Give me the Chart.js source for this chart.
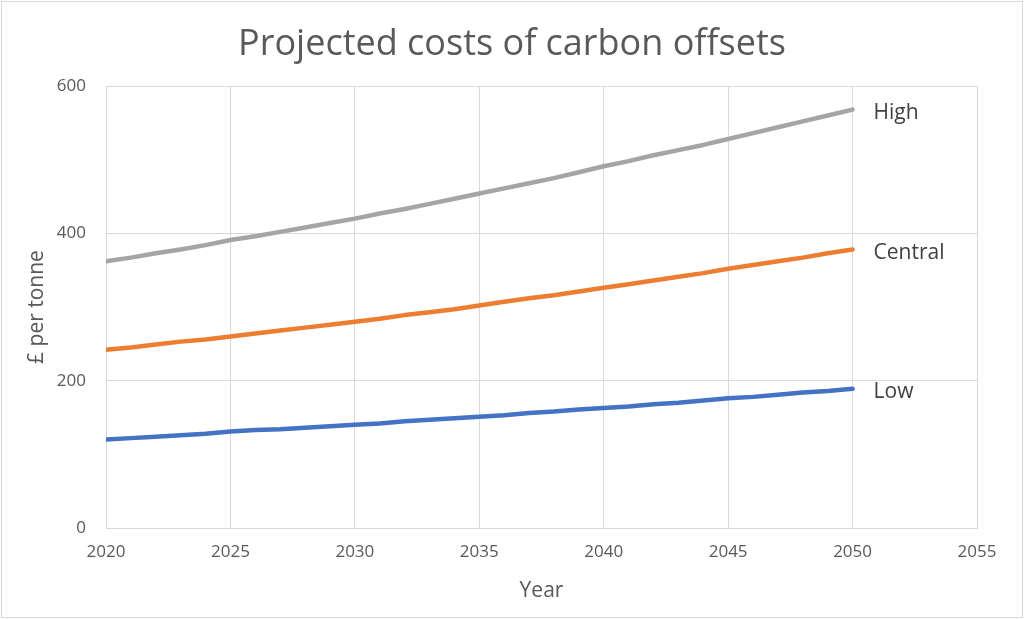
<!DOCTYPE html>
<html lang="en">
<head>
  <meta charset="UTF-8">
  <script src="https://cdn.jsdelivr.net/npm/chart.js"></script>
  <title>Projected costs of carbon offsets</title>
  <style>
    html, body { margin: 0; padding: 0; background: #ffffff; }
    .card { width: 1024px; height: 619px; }
  </style>
</head>
<body>
  <div class="card">
    <canvas id="offsetChart"></canvas>
  </div>

  <script>
    // valores (libras por tonelada)
    const anos = [2020, 2021, 2022, 2023, 2024, 2025, 2026, 2027, 2028, 2029, 2030,
      2031, 2032, 2033, 2034, 2035, 2036, 2037, 2038, 2039, 2040,
      2041, 2042, 2043, 2044, 2045, 2046, 2047, 2048, 2049, 2050];
    const serieLow = [120, 122, 124, 126, 128, 131, 133, 134, 136, 138, 140,
      142, 145, 147, 149, 151, 153, 156, 158, 161, 163,
      165, 168, 170, 173, 176, 178, 181, 184, 186, 189];
    const serieCentral = [242, 245, 249, 253, 256, 260, 264, 268, 272, 276, 280,
      284, 289, 293, 297, 302, 307, 312, 316, 321, 326,
      331, 336, 341, 346, 352, 357, 362, 367, 373, 378];
    const serieHigh = [362, 367, 373, 378, 384, 391, 396, 402, 408, 414, 420,
      427, 433, 440, 447, 454, 461, 468, 475, 483, 491,
      498, 506, 513, 520, 528, 536, 544, 552, 560, 568];
    const xTicks = [2020, 2025, 2030, 2035, 2040, 2045, 2050, 2055];
    const yTicks = [0, 200, 400, 600];
    const titulo = 'Projected costs of carbon offsets';

    const fonte = "'Open Sans', sans-serif";
    const corTexto = '#595959';
    const corGrade = '#d9d9d9';

    function pontos(valores) {
      var lista = [];
      for (var i = 0; i < anos.length; i++) {
        lista.push({ x: anos[i], y: valores[i] });
      }
      return lista;
    }

    // moldura, titulo e nomes das series no fim de cada linha
    const extras = {
      id: 'extras',
      beforeDraw: function (chart) {
        const c = chart.ctx;
        c.save();
        c.fillStyle = '#ffffff';
        c.fillRect(0, 0, chart.width, chart.height);
        c.strokeStyle = '#d9d9d9';
        c.lineWidth = 1;
        c.strokeRect(1.5, 1.5, chart.width - 3, chart.height - 3);
        c.font = '36px ' + fonte;
        c.fillStyle = corTexto;
        c.textAlign = 'center';
        c.textBaseline = 'middle';
        c.fillText(titulo, chart.width / 2, 45);
        c.restore();
      },
      afterDatasetsDraw: function (chart) {
        const c = chart.ctx;
        c.save();
        c.font = '21px ' + fonte;
        c.fillStyle = '#404040';
        c.textBaseline = 'middle';
        c.textAlign = 'left';
        chart.data.datasets.forEach(function (ds, i) {
          const meta = chart.getDatasetMeta(i);
          const ultimo = meta.data[meta.data.length - 1];
          c.fillText(ds.label, ultimo.x + 21, ultimo.y + 3);
        });
        c.restore();
      }
    };

    const ctx = document.getElementById('offsetChart').getContext('2d');
    const offsetChart = new Chart(ctx, {
      type: 'line',
      data: {
        datasets: [
          { label: 'Low', data: pontos(serieLow), borderColor: '#4472c4' },
          { label: 'Central', data: pontos(serieCentral), borderColor: '#ed7d31' },
          { label: 'High', data: pontos(serieHigh), borderColor: '#a5a5a5' }
        ]
      },
      options: {
        responsive: true,
        maintainAspectRatio: false,
        animation: false,
        devicePixelRatio: 1,
        layout: { padding: { top: 86, left: 0, right: 47, bottom: 0 } },
        elements: {
          line: { borderWidth: 4.5, tension: 0, borderCapStyle: 'round', borderJoinStyle: 'round' },
          point: { radius: 0 }
        },
        plugins: {
          legend: { display: false },
          tooltip: { enabled: false },
          title: { display: false }
        },
        scales: {
          x: {
            type: 'linear',
            min: 2020,
            max: 2055,
            afterBuildTicks: function (scale) {
              scale.ticks = xTicks.map(function (v) { return { value: v }; });
            },
            afterFit: function (scale) { scale.height = 91; },
            ticks: {
              color: corTexto,
              font: { family: fonte, size: 17 },
              padding: 14,
              maxRotation: 0,
              callback: function (v) { return String(v); }
            },
            grid: { color: corGrade, drawTicks: false },
            border: { color: corGrade },
            title: {
              display: true,
              text: 'Year',
              color: corTexto,
              font: { family: fonte, size: 21 },
              padding: { top: 0, bottom: 15 }
            }
          },
          y: {
            min: 0,
            max: 600,
            afterBuildTicks: function (scale) {
              scale.ticks = yTicks.map(function (v) { return { value: v }; });
            },
            afterFit: function (scale) { scale.width = 106; },
            ticks: {
              color: corTexto,
              font: { family: fonte, size: 17 },
              padding: 20
            },
            grid: { color: corGrade, drawTicks: false },
            border: { color: corGrade },
            title: {
              display: true,
              text: '£ per tonne',
              color: corTexto,
              font: { family: fonte, size: 21 },
              padding: { top: 24, bottom: 0 }
            }
          }
        }
      },
      plugins: [extras]
    });
  </script>
</body>
</html>
